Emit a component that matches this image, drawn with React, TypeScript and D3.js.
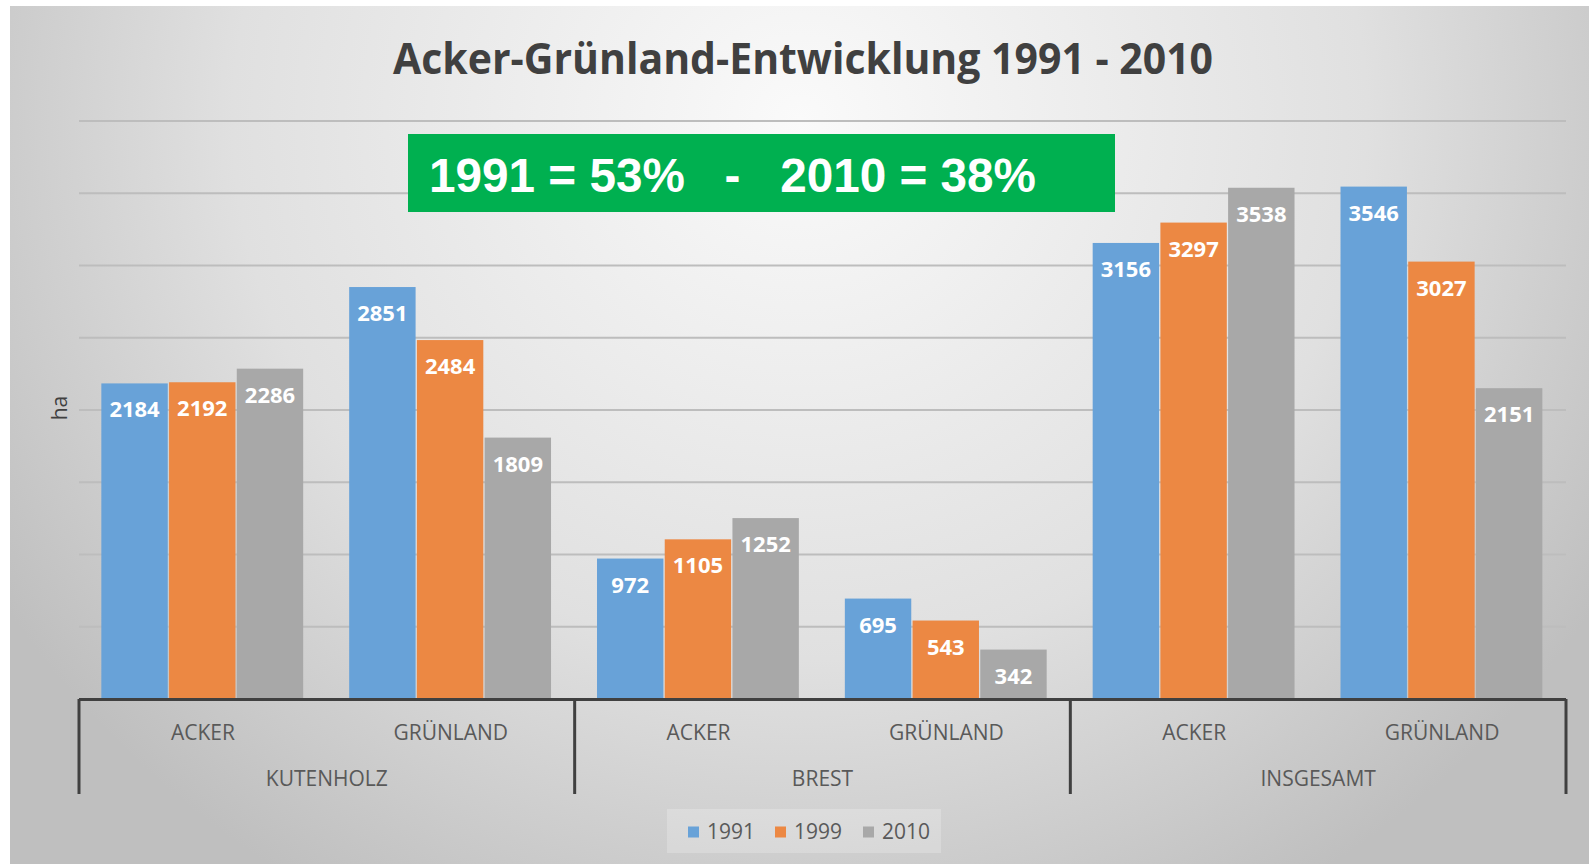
import React, { useEffect, useRef } from "react";
import * as d3 from "d3";

// chart values
const regions = ["KUTENHOLZ", "BREST", "INSGESAMT"];
const landTypes = ["ACKER", "GRÜNLAND"];
const years = ["1991", "1999", "2010"];
const values1991 = [2184, 2851, 972, 695, 3156, 3546];
const values1999 = [2192, 2484, 1105, 543, 3297, 3027];
const values2010 = [2286, 1809, 1252, 342, 3538, 2151];
const yTicks = [500, 1000, 1500, 2000, 2500, 3000, 3500, 4000];
const yearColors = ["#68a2d8", "#ec8843", "#a8a8a8"];

const App: React.FC = () => {
  const svgRef = useRef<SVGSVGElement>(null);

  useEffect(() => {
    if (!svgRef.current) return;
    document.body.style.margin = "0";

    const svg = d3.select(svgRef.current);
    svg.selectAll("*").remove();

    const width = 1589;
    const height = 864;
    svg.attr("width", width).attr("height", height);

    const left = 79;
    const right = 1566;
    const baseline = 699;
    const top = 121;

    // background gradient
    const defs = svg.append("defs");
    const grad = defs
      .append("radialGradient")
      .attr("id", "bg")
      .attr("gradientUnits", "userSpaceOnUse")
      .attr("cx", 800)
      .attr("cy", 120)
      .attr("r", 900)
      .attr("gradientTransform", "translate(800,120) scale(1.05,1) translate(-800,-120)");
    grad.append("stop").attr("offset", 0).attr("stop-color", "#fafafa");
    grad.append("stop").attr("offset", 0.6).attr("stop-color", "#e0e0e0");
    grad.append("stop").attr("offset", 1).attr("stop-color", "#bfbfbf");

    svg.append("rect").attr("width", width).attr("height", height).attr("fill", "#ffffff");
    svg
      .append("rect")
      .attr("x", 10)
      .attr("y", 6)
      .attr("width", width - 10)
      .attr("height", height - 6)
      .attr("fill", "url(#bg)");

    // scales
    const categories: string[] = [];
    regions.forEach((r) => landTypes.forEach((t) => categories.push(r + "|" + t)));

    const x0 = d3.scaleBand<string>().domain(categories).range([left, right]).padding(0);
    const x1 = d3
      .scaleBand<string>()
      .domain(years)
      .range([0, x0.bandwidth()])
      .paddingInner(0)
      .paddingOuter(0.33);
    const y = d3.scaleLinear().domain([0, 4000]).range([baseline, top]);

    const series = [values1991, values1999, values2010];

    // gridlines
    svg
      .append("g")
      .selectAll("line")
      .data(yTicks)
      .join("line")
      .attr("x1", left)
      .attr("x2", right)
      .attr("y1", (d) => y(d))
      .attr("y2", (d) => y(d))
      .attr("stroke", "#bdbdbd")
      .attr("stroke-width", 2);

    // bars
    const barFont = "'Open Sans', sans-serif";
    categories.forEach((cat, ci) => {
      const g = svg.append("g").attr("transform", `translate(${x0(cat)},0)`);
      years.forEach((yr, si) => {
        const v = series[si][ci];
        const bx = x1(yr) as number;
        const bw = x1.bandwidth() - 1.3;
        g.append("rect")
          .attr("x", bx)
          .attr("y", y(v))
          .attr("width", bw)
          .attr("height", baseline - y(v))
          .attr("fill", yearColors[si]);
        g.append("text")
          .attr("x", bx + bw / 2)
          .attr("y", y(v) + 34)
          .attr("text-anchor", "middle")
          .style("font-family", barFont)
          .style("font-size", "22px")
          .style("font-weight", "bold")
          .style("fill", "#ffffff")
          .text(v);
      });
    });

    // category axis
    const axisColor = "#404040";
    svg
      .append("line")
      .attr("x1", left)
      .attr("x2", right)
      .attr("y1", baseline + 0.5)
      .attr("y2", baseline + 0.5)
      .attr("stroke", axisColor)
      .attr("stroke-width", 3);

    const step = x0.step();
    const dividers = d3.range(regions.length + 1).map((i) => left + i * step * landTypes.length);
    svg
      .append("g")
      .selectAll("line")
      .data(dividers)
      .join("line")
      .attr("x1", (d) => d)
      .attr("x2", (d) => d)
      .attr("y1", baseline)
      .attr("y2", 794)
      .attr("stroke", axisColor)
      .attr("stroke-width", 3);

    const labelFont = "'Open Sans', sans-serif";
    categories.forEach((cat) => {
      svg
        .append("text")
        .attr("x", (x0(cat) as number) + x0.bandwidth() / 2)
        .attr("y", 740)
        .attr("text-anchor", "middle")
        .style("font-family", labelFont)
        .style("font-size", "21px")
        .style("fill", "#595959")
        .text(cat.split("|")[1]);
    });
    regions.forEach((r, i) => {
      svg
        .append("text")
        .attr("x", (dividers[i] + dividers[i + 1]) / 2)
        .attr("y", 786)
        .attr("text-anchor", "middle")
        .style("font-family", labelFont)
        .style("font-size", "21px")
        .style("fill", "#595959")
        .text(r);
    });

    // y axis title
    svg
      .append("text")
      .attr("transform", "translate(67,408) rotate(-90)")
      .attr("text-anchor", "middle")
      .style("font-family", labelFont)
      .style("font-size", "21px")
      .style("fill", "#404040")
      .text("ha");

    // title
    svg
      .append("text")
      .attr("x", 393)
      .attr("y", 74)
      .attr("textLength", 820)
      .attr("lengthAdjust", "spacingAndGlyphs")
      .style("font-family", "'Open Sans', sans-serif")
      .style("font-size", "43px")
      .style("font-weight", "bold")
      .style("fill", "#404040")
      .text("Acker-Grünland-Entwicklung 1991 - 2010");

    // green annotation box
    svg
      .append("rect")
      .attr("x", 408)
      .attr("y", 134)
      .attr("width", 707)
      .attr("height", 78)
      .attr("fill", "#00b050");
    svg
      .append("text")
      .attr("x", 429)
      .attr("y", 192)
      .attr("textLength", 607)
      .attr("lengthAdjust", "spacingAndGlyphs")
      .style("font-family", "'Liberation Sans', Arial, sans-serif")
      .style("font-size", "48px")
      .style("font-weight", "bold")
      .style("fill", "#ffffff")
      .style("white-space", "pre")
      .text("1991 = 53%   -   2010 = 38%");

    // legend
    const legend = svg.append("g");
    legend
      .append("rect")
      .attr("x", 667)
      .attr("y", 809)
      .attr("width", 274)
      .attr("height", 44)
      .attr("fill", "rgba(255,255,255,0.22)");
    const legendX = [688, 775, 863];
    years.forEach((yr, i) => {
      legend
        .append("rect")
        .attr("x", legendX[i])
        .attr("y", 826.5)
        .attr("width", 11)
        .attr("height", 11)
        .attr("fill", yearColors[i]);
      legend
        .append("text")
        .attr("x", legendX[i] + 19)
        .attr("y", 838.5)
        .style("font-family", labelFont)
        .style("font-size", "21px")
        .style("fill", "#595959")
        .text(yr);
    });
  }, []);

  return (
    <div style={{ position: "absolute", left: 0, top: 0, width: 1589, height: 864 }}>
      <svg ref={svgRef}></svg>
    </div>
  );
};

export default App;
